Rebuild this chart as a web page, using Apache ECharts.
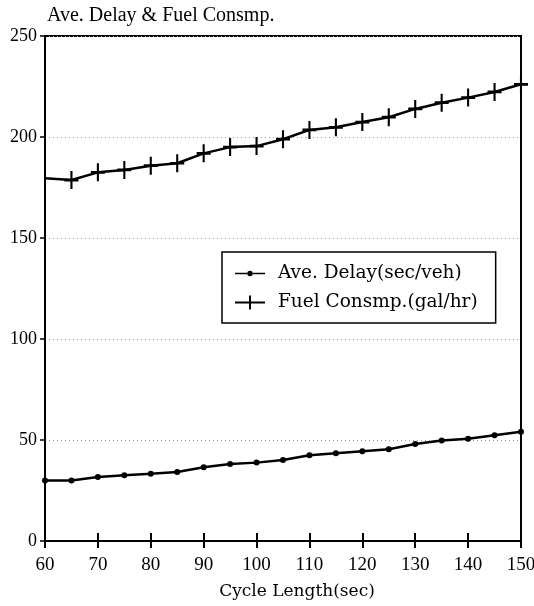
<!DOCTYPE html>
<html>
<head>
<meta charset="utf-8">
<script src="https://cdn.jsdelivr.net/npm/echarts@6/dist/echarts.min.js"></script>
<style>html,body{margin:0;padding:0;background:#fff}#c{width:534px;height:606px}</style>
</head>
<body>
<div id="c"></div>
<script>
const cycleLength = [60,65,70,75,80,85,90,95,100,105,110,115,120,125,130,135,140,145,150];
const aveDelay = [30,29.9,31.7,32.5,33.3,34.2,36.5,38.1,38.8,40.1,42.4,43.4,44.4,45.4,48,49.7,50.6,52.3,54.1];
const fuelConsmp = [179.6,178.7,182.5,183.7,185.8,187,191.9,195,195.5,198.9,203.5,204.8,207.4,209.8,213.9,217,219.5,222.3,226.1];
const xTicks = [60,70,80,90,100,110,120,130,140,150];
const yTicks = [0,50,100,150,200,250];
const titleText = 'Ave. Delay & Fuel Consmp.';
const xName = 'Cycle Length(sec)';
const seriesNames = ['Ave. Delay(sec/veh)','Fuel Consmp.(gal/hr)'];

const FONT = '"Liberation Serif", "DejaVu Serif", serif';
const WIDE = '"DejaVu Serif", "Liberation Serif", serif';
const crossPath = 'path://M8.5,0H11.5V8.5H20V11.5H11.5V20H8.5V11.5H0V8.5H8.5Z';
const legendDotIcon = 'path://M0,0L0.001,0Z M30,14L29.999,14Z M0,6.2H12V7.8H0Z M18,6.2H30V7.8H18Z M17.8,7A2.8,2.8 0 1 1 12.2,7A2.8,2.8 0 1 1 17.8,7Z';
const legendCrossIcon = 'path://M0,6.1H14V0H16V6.1H30V7.9H16V14H14V7.9H0Z';

const chart = echarts.init(document.getElementById('c'), null, {renderer:'canvas'});
const xAxisBase = {
  type:'value', min:xTicks[0], max:xTicks[xTicks.length-1], interval:10,
  position:'bottom', splitLine:{show:false}
};
chart.setOption({
  backgroundColor:'#fff',
  animation:false,
  title:{text:titleText, left:42, top:1,
    textStyle:{fontFamily:FONT, fontSize:20, fontWeight:'normal', color:'#000'}},
  grid:{left:45, right:13, top:36, bottom:65, outerBoundsMode:'none', containLabel:false,
    show:true, borderColor:'#000', borderWidth:2, backgroundColor:'transparent'},
  legend:{
    orient:'vertical', left:222, top:252,
    data:[
      {name:seriesNames[0], icon:legendDotIcon},
      {name:seriesNames[1], icon:legendCrossIcon}
    ],
    itemWidth:30, itemHeight:14, itemGap:10,
    padding:[12,18,11,13],
    borderColor:'#000', borderWidth:1.5,
    textStyle:{fontFamily:WIDE, fontSize:18.5, color:'#000', padding:[0,0,0,8]}
  },
  xAxis:[
    Object.assign({}, xAxisBase, {
      name:xName, nameLocation:'middle', nameGap:42,
      nameTextStyle:{fontFamily:WIDE, fontSize:17, color:'#000', padding:[0,0,0,28]},
      axisLine:{show:true, lineStyle:{color:'#000', width:2}},
      axisTick:{show:true, inside:false, length:7, lineStyle:{color:'#000', width:2}},
      axisLabel:{show:true, margin:15, fontFamily:FONT, fontSize:19, color:'#000'}
    }),
    Object.assign({}, xAxisBase, {
      axisLine:{show:false},
      axisTick:{show:true, inside:true, length:8, lineStyle:{color:'#000', width:2}},
      axisLabel:{show:false}
    })
  ],
  yAxis:{
    type:'value', min:yTicks[0], max:yTicks[yTicks.length-1], interval:50,
    axisLine:{show:true, lineStyle:{color:'#000', width:2}},
    axisTick:{show:true, inside:false, length:5, lineStyle:{color:'#000', width:1.5}},
    axisLabel:{margin:8, fontFamily:FONT, fontSize:18, color:'#000'},
    splitLine:{show:true, lineStyle:{color:'#999', type:[1,3], width:1}}
  },
  series:[
    {
      name:seriesNames[0], type:'line', xAxisIndex:0,
      data:cycleLength.map((x,i)=>[x, aveDelay[i]]),
      symbol:'circle', symbolSize:6,
      lineStyle:{color:'#000', width:2.5},
      itemStyle:{color:'#000'}
    },
    {
      name:seriesNames[1], type:'line', xAxisIndex:0,
      data:cycleLength.map((x,i)=> i === 0 ? {value:[x, fuelConsmp[i]], symbol:'none'} : [x, fuelConsmp[i]]),
      symbol:crossPath, symbolSize:[14,18],
      lineStyle:{color:'#000', width:2.5},
      itemStyle:{color:'#000'}
    }
  ]
});
</script>
</body>
</html>
